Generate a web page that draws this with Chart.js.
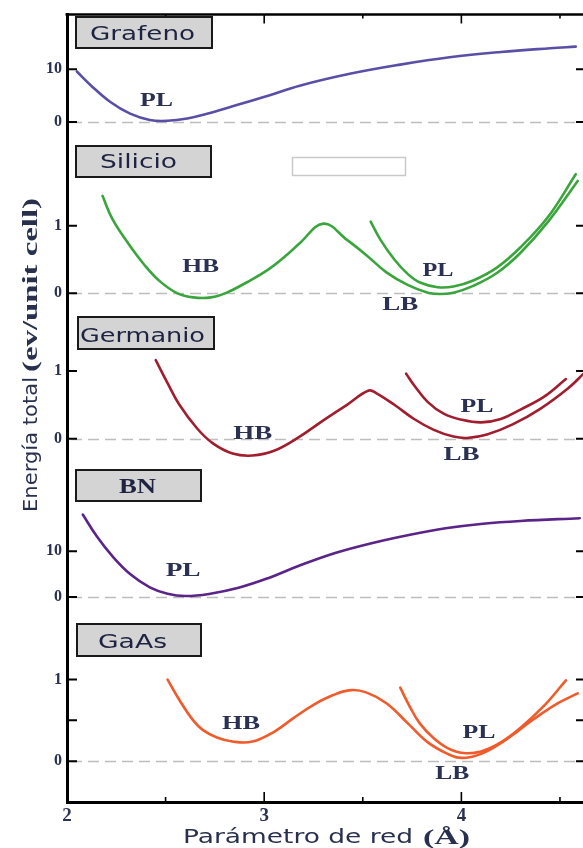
<!DOCTYPE html>
<html>
<head>
<meta charset="utf-8">
<script src="https://cdn.jsdelivr.net/npm/chart.js@4.4.1/dist/chart.umd.min.js"></script>
<style>
  html, body { margin: 0; padding: 0; background: #fff; overflow: hidden; }
  #wrap { width: 583px; height: 848px; overflow: hidden; position: relative; }
  canvas { display: block; }
</style>
</head>
<body>
<div id="wrap"><canvas id="c" width="600" height="848"></canvas></div>
<script>
// Total energy (eV / unit cell) against lattice parameter (Å) for each monolayer.

// Grafeno, planar (PL)
const grafenoPlA = [2.05, 2.12, 2.22, 2.32, 2.42, 2.51, 2.61, 2.71, 2.84, 3.02, 3.18, 3.44, 3.69, 3.94, 4.20, 4.45, 4.58];
const grafenoPlE = [9.6, 7.0, 3.8, 1.6, 0.4, 0.25, 0.7, 1.6, 3.0, 5.0, 6.9, 9.2, 10.9, 12.3, 13.3, 14.0, 14.3];

// Silicio, buckled branch (HB -> LB) and planar (PL)
const silicioBuckledA = [2.18, 2.23, 2.31, 2.39, 2.47, 2.56, 2.64, 2.73, 2.81, 2.91, 3.02, 3.12, 3.18, 3.30, 3.42, 3.52, 3.62, 3.73, 3.83, 3.89, 3.96, 4.06, 4.18, 4.30, 4.44, 4.59];
const silicioBuckledE = [1.44, 1.10, 0.74, 0.43, 0.18, 0.0, -0.06, -0.06, 0.01, 0.16, 0.35, 0.58, 0.74, 1.03, 0.79, 0.56, 0.31, 0.12, 0.01, -0.01, 0.01, 0.11, 0.30, 0.60, 1.06, 1.66];
const silicioPlA = [3.54, 3.59, 3.66, 3.73, 3.79, 3.88, 3.96, 4.06, 4.18, 4.30, 4.44, 4.58];
const silicioPlE = [1.06, 0.79, 0.50, 0.28, 0.16, 0.09, 0.10, 0.19, 0.38, 0.68, 1.13, 1.76];

// Germanio, buckled branch (HB -> LB) and planar (PL)
const germanioBuckledA = [2.45, 2.51, 2.57, 2.66, 2.74, 2.84, 2.94, 3.05, 3.18, 3.30, 3.42, 3.53, 3.57, 3.66, 3.76, 3.86, 3.96, 4.03, 4.13, 4.26, 4.40, 4.54, 4.62];
const germanioBuckledE = [1.16, 0.82, 0.50, 0.15, -0.07, -0.22, -0.25, -0.18, 0.03, 0.27, 0.50, 0.71, 0.67, 0.50, 0.29, 0.13, 0.03, 0.01, 0.06, 0.21, 0.44, 0.74, 0.96];
const germanioPlA = [3.72, 3.76, 3.83, 3.91, 4.00, 4.10, 4.20, 4.30, 4.42, 4.53];
const germanioPlE = [0.96, 0.79, 0.54, 0.37, 0.28, 0.24, 0.29, 0.43, 0.62, 0.88];

// BN, planar (PL)
const bnPlA = [2.08, 2.15, 2.23, 2.32, 2.42, 2.51, 2.60, 2.72, 2.87, 3.02, 3.17, 3.36, 3.55, 3.74, 3.92, 4.11, 4.30, 4.60];
const bnPlE = [18.0, 13.3, 8.9, 5.0, 2.1, 0.7, 0.2, 0.65, 2.0, 4.1, 6.7, 9.6, 11.8, 13.6, 15.0, 16.0, 16.6, 17.2];

// GaAs, buckled branch (HB -> LB) and planar (PL)
const gaasBuckledA = [2.51, 2.57, 2.64, 2.69, 2.76, 2.84, 2.94, 3.05, 3.15, 3.25, 3.35, 3.44, 3.52, 3.62, 3.73, 3.83, 3.93, 4.00, 4.10, 4.23, 4.37, 4.49, 4.59];
const gaasBuckledE = [1.00, 0.75, 0.50, 0.38, 0.29, 0.24, 0.24, 0.36, 0.53, 0.69, 0.81, 0.87, 0.84, 0.71, 0.46, 0.23, 0.09, 0.04, 0.09, 0.27, 0.52, 0.71, 0.83];
const gaasPlA = [3.69, 3.74, 3.79, 3.86, 3.93, 4.01, 4.10, 4.20, 4.30, 4.42, 4.53];
const gaasPlE = [0.90, 0.66, 0.46, 0.28, 0.16, 0.10, 0.12, 0.23, 0.41, 0.68, 0.99];

// Axis ticks
const xTicks = [2, 2.5, 3, 3.5, 4, 4.5];
const xTickLabels = [2, 3, 4];
const grafenoTicks = [0, 10];
const silicioTicks = [0, 1];
const germanioTicks = [0, 1];
const bnTicks = [0, 10];
const gaasTicks = [0, 0.5, 1];
const gaasTickLabels = [0, 1];

const SERIF = '"Liberation Serif", "Times New Roman", serif';
const SANS = '"DejaVu Sans", Verdana, sans-serif';
const INK = '#2a3152';

const pts = (a, e) => a.map((v, i) => ({ x: v, y: e[i] }));

// One stacked y scale per material panel, top to bottom.
const panels = [
  { axis: 'yGrafeno',  name: 'Grafeno',  nameFont: SANS,  ticks: grafenoTicks,  labels: grafenoTicks,  min: -3.585, max: 20.377, band: 127, order: 5,
    box: [76, 17, 136, 31],  text: [142.5, 40, 105] },
  { axis: 'ySilicio',  name: 'Silicio',  nameFont: SANS,  ticks: silicioTicks,  labels: silicioTicks,  min: -0.25,  max: 2.25,   band: 170, order: 4,
    box: [76, 146, 135, 31], text: [138.5, 168, 77] },
  { axis: 'yGermanio', name: 'Germanio', nameFont: SANS,  ticks: germanioTicks, labels: germanioTicks, min: -0.368, max: 1.897,  band: 154, order: 3,
    box: [78, 317, 136, 32], text: [142.5, 342, 125] },
  { axis: 'yBN',       name: 'BN',       nameFont: SERIF, ticks: bnTicks,       labels: bnTicks,       min: -4.13,  max: 29.13,  band: 153, order: 2,
    box: [76, 470, 125, 31], text: [137.5, 493, 37] },
  { axis: 'yGaAs',     name: 'GaAs',     nameFont: SANS,  ticks: gaasTicks,     labels: gaasTickLabels, min: -0.5,  max: 1.78,   band: 187, order: 1,
    box: [77, 624, 124, 32], text: [132.5, 648, 69] }
];

// Phase labels, anchored in data units of each panel
const notes = [
  { axis: 'yGrafeno',  a: 2.454, e: 3.0,   text: 'PL', w: 33 },
  { axis: 'ySilicio',  a: 2.678, e: 0.31,  text: 'HB', w: 37 },
  { axis: 'ySilicio',  a: 3.881, e: 0.26,  text: 'PL', w: 31 },
  { axis: 'ySilicio',  a: 3.690, e: -0.24, text: 'LB', w: 36 },
  { axis: 'yGermanio', a: 2.942, e: -0.01, text: 'HB', w: 39 },
  { axis: 'yGermanio', a: 4.079, e: 0.40,  text: 'PL', w: 33 },
  { axis: 'yGermanio', a: 4.000, e: -0.32, text: 'LB', w: 36 },
  { axis: 'yBN',       a: 2.589, e: 4.57,  text: 'PL', w: 35 },
  { axis: 'yGaAs',     a: 2.883, e: 0.39,  text: 'HB', w: 38 },
  { axis: 'yGaAs',     a: 4.089, e: 0.28,  text: 'PL', w: 33 },
  { axis: 'yGaAs',     a: 3.954, e: -0.22, text: 'LB', w: 34 }
];

function yScale(p) {
  return {
    type: 'linear', position: 'left', stack: 'panels',
    weight: p.order, stackWeight: p.band, min: p.min, max: p.max,
    afterBuildTicks: s => { s.ticks = p.ticks.map(v => ({ value: v })); },
    afterFit: s => { s.width = 67; },
    grid: { display: false, drawTicks: false },
    border: { display: true, color: '#000', width: 3 },
    ticks: {
      padding: 5, color: INK, autoSkip: false,
      font: { family: SERIF, weight: 'bold', size: 16 },
      callback: v => (p.labels.includes(v) ? String(v) : '')
    }
  };
}

function line(axis, data, color) {
  return {
    data, yAxisID: axis, xAxisID: 'x',
    borderColor: color, borderWidth: 2.6, pointRadius: 0,
    fill: false, tension: 0.4, borderCapStyle: 'round', borderJoinStyle: 'round'
  };
}

// Draws text centred at (cx, baseline), widened or narrowed to the given width.
function fitText(ctx, text, font, cx, baseline, width) {
  ctx.font = font;
  const m = ctx.measureText(text).width;
  ctx.save();
  ctx.translate(cx, baseline);
  ctx.scale(width / m, 1);
  ctx.textAlign = 'center';
  ctx.textBaseline = 'alphabetic';
  ctx.fillText(text, 0, 0);
  ctx.restore();
}

const frame = {
  id: 'frame',
  beforeDatasetsDraw(chart) {
    const { ctx, chartArea: a } = chart;
    ctx.save();
    ctx.strokeStyle = '#bdbdbd';
    ctx.lineWidth = 1.5;
    ctx.setLineDash([11, 6]);
    for (const p of panels) {
      const y = Math.round(chart.scales[p.axis].getPixelForValue(0)) + 0.5;
      ctx.beginPath();
      ctx.moveTo(a.left + 4, y);
      ctx.lineTo(a.right - 10, y);
      ctx.stroke();
    }
    ctx.restore();
  },
  afterDatasetsDraw(chart) {
    const { ctx, chartArea: a } = chart;
    const xs = chart.scales.x;
    ctx.save();

    // top and right border
    ctx.strokeStyle = '#000';
    ctx.lineWidth = 2.5;
    ctx.beginPath();
    ctx.moveTo(a.left - 1.5, a.top);
    ctx.lineTo(a.right + 2, a.top);
    ctx.stroke();
    ctx.beginPath();
    ctx.moveTo(a.right, a.top);
    ctx.lineTo(a.right, a.bottom);
    ctx.stroke();

    // inward ticks on the left and right edges of every panel
    ctx.lineWidth = 2;
    for (const p of panels) {
      const s = chart.scales[p.axis];
      for (const v of p.ticks) {
        const y = s.getPixelForValue(v);
        ctx.beginPath();
        ctx.moveTo(a.left, y); ctx.lineTo(a.left + 10, y);
        ctx.moveTo(a.right, y); ctx.lineTo(a.right - 10, y);
        ctx.stroke();
      }
    }
    // inward ticks along bottom and top
    ctx.lineWidth = 1.6;
    for (const v of xTicks) {
      if (v === xs.min) continue;
      const x = xs.getPixelForValue(v);
      const len = xTickLabels.includes(v) ? 10 : 5;
      ctx.beginPath();
      ctx.moveTo(x, a.bottom); ctx.lineTo(x, a.bottom - len);
      ctx.moveTo(x, a.top); ctx.lineTo(x, a.top + len - 1);
      ctx.stroke();
    }

    // material name boxes
    for (const p of panels) {
      const [bx, by, bw, bh] = p.box;
      ctx.fillStyle = '#d4d4d4';
      ctx.fillRect(bx, by, bw, bh);
      ctx.strokeStyle = '#1a1a1a';
      ctx.lineWidth = 2;
      ctx.strokeRect(bx, by, bw, bh);
      ctx.fillStyle = '#1d2340';
      const font = p.nameFont === SERIF ? `bold 20px ${SERIF}` : `20px ${SANS}`;
      fitText(ctx, p.name, font, p.text[0], p.text[1], p.text[2]);
    }
    // empty legend frame in the Silicio panel
    ctx.strokeStyle = '#c9c9c9';
    ctx.lineWidth = 1.5;
    ctx.strokeRect(292.5, 157.5, 113, 18);

    // phase labels
    ctx.fillStyle = INK;
    for (const n of notes) {
      const x = xs.getPixelForValue(n.a);
      const y = chart.scales[n.axis].getPixelForValue(n.e);
      fitText(ctx, n.text, `bold 19px ${SERIF}`, x, y, n.w);
    }

    // axis titles
    ctx.fillStyle = '#28304e';
    fitText(ctx, 'Parámetro de red', `20px ${SANS}`, 298, 843, 230);
    fitText(ctx, '(Å)', `bold 22px ${SERIF}`, 446.5, 844, 47);

    ctx.save();
    ctx.translate(37, 0);
    ctx.rotate(-Math.PI / 2);
    fitText(ctx, 'Energía total', `19px ${SANS}`, -444.5, 0, 135);
    fitText(ctx, '(ev/unit cell)', `bold 20px ${SERIF}`, -285, 0, 174);
    ctx.restore();

    ctx.restore();
  }
};

const scales = {
  x: {
    type: 'linear', position: 'bottom', min: 2, max: 4.632,
    afterBuildTicks: s => { s.ticks = xTicks.map(v => ({ value: v })); },
    afterFit: s => { s.height = 46; },
    grid: { display: false, drawTicks: false },
    border: { display: true, color: '#000', width: 3 },
    ticks: {
      padding: 3, color: INK, autoSkip: false, maxRotation: 0,
      font: { family: SERIF, weight: 'bold', size: 19 },
      callback: v => (xTickLabels.includes(v) ? String(v) : '')
    }
  }
};
for (const p of panels) scales[p.axis] = yScale(p);

new Chart(document.getElementById('c'), {
  type: 'line',
  data: {
    datasets: [
      line('yGrafeno',  pts(grafenoPlA, grafenoPlE),             '#5a4fa6'),
      line('ySilicio',  pts(silicioBuckledA, silicioBuckledE),   '#3aa53c'),
      line('ySilicio',  pts(silicioPlA, silicioPlE),             '#3aa53c'),
      line('yGermanio', pts(germanioBuckledA, germanioBuckledE), '#a01e2e'),
      line('yGermanio', pts(germanioPlA, germanioPlE),           '#a01e2e'),
      line('yBN',       pts(bnPlA, bnPlE),                       '#5b2488'),
      line('yGaAs',     pts(gaasBuckledA, gaasBuckledE),         '#ef5b2b'),
      line('yGaAs',     pts(gaasPlA, gaasPlE),                   '#ef5b2b')
    ]
  },
  options: {
    responsive: false,
    animation: false,
    layout: { padding: { top: 11, right: 14, left: 0, bottom: 0 } },
    plugins: { legend: { display: false }, tooltip: { enabled: false } },
    scales
  },
  plugins: [frame]
});
</script>
</body>
</html>
